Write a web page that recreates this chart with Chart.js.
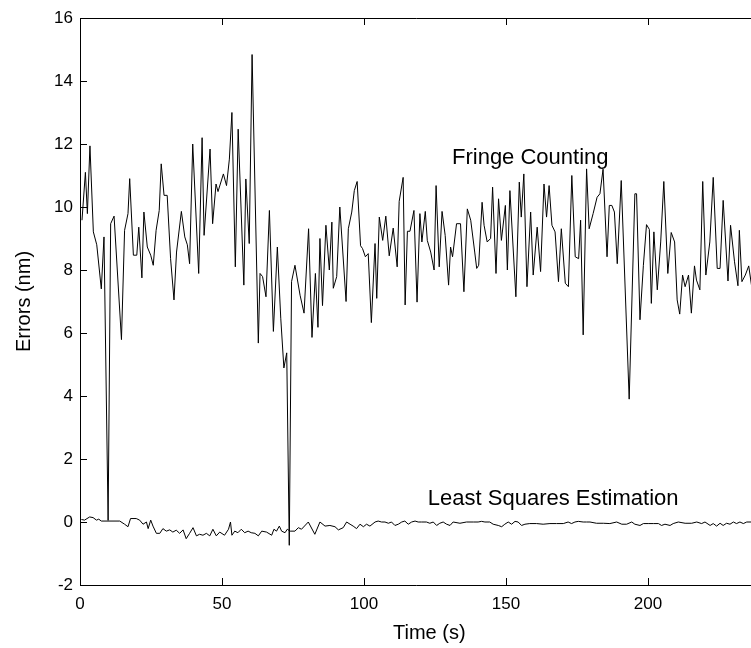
<!DOCTYPE html>
<html lang="en">
<head>
  <meta charset="UTF-8">
  <title>Errors vs Time</title>
  <script src="https://cdn.jsdelivr.net/npm/chart.js"></script>
  <style>
    body { margin: 0; background: #fff; }
    .wrap { width: 751px; height: 648px; }
  </style>
</head>
<body>
  <div class="wrap"><canvas id="errChart"></canvas></div>
  <script>
    // values (time in s, error in nm)
    const fringeTime = [0.7, 1.9, 2.6, 3.5, 4.7, 5.9, 7.5, 8.45, 9.9, 10.8, 12.0, 14.6, 15.7, 16.9, 17.5, 18.8, 20.0, 20.7, 21.8, 22.5,
      23.7, 24.9, 25.8, 26.8, 27.9, 28.6, 29.6, 30.7, 31.9, 33.1, 34.0, 35.7, 36.9, 37.8, 38.6, 39.7, 41.8, 43.0, 43.7, 45.8,
      46.7, 47.9, 48.6, 50.5, 51.6, 52.6, 53.5, 54.7, 55.7, 57.7, 58.4, 59.6, 60.6, 62.8, 63.4, 64.3, 65.5, 66.7, 68.1, 69.5,
      70.7, 71.8, 72.8, 73.7, 74.5, 75.7, 77.5, 78.9, 80.5, 81.7, 82.9, 83.8, 84.5, 85.4, 86.6, 87.8, 88.7, 89.2, 90.4, 91.5,
      93.7, 94.5, 95.7, 96.6, 97.6, 98.8, 99.5, 100.5, 101.5, 102.6, 103.9, 104.5, 105.4, 106.6, 107.7, 108.9, 110.3, 111.7, 112.4, 113.8,
      114.5, 115.3, 116.2, 117.6, 118.7, 119.7, 120.4, 121.6, 122.3, 123.5, 124.7, 125.4, 126.5, 127.5, 128.6, 129.8, 130.5, 131.2, 132.6, 134.0,
      135.2, 136.4, 137.6, 139.0, 139.7, 140.4, 141.6, 142.3, 143.4, 144.6, 145.3, 146.5, 147.4, 148.4, 149.8, 150.5, 151.4, 153.5, 154.7, 155.4,
      156.3, 157.4, 158.7, 159.6, 161.0, 162.2, 163.4, 164.3, 165.2, 166.2, 167.3, 168.5, 169.5, 170.9, 172.0, 173.2, 174.4, 175.6, 176.3, 177.2,
      178.4, 179.3, 180.7, 182.1, 183.1, 184.2, 185.6, 186.4, 187.3, 188.2, 189.2, 190.6, 193.4, 195.4, 196.0, 197.2, 198.4, 199.5, 200.5, 201.2,
      202.1, 203.3, 204.5, 205.6, 207.0, 208.2, 209.4, 210.3, 211.2, 212.2, 213.1, 214.3, 215.3, 216.4, 217.1, 218.3, 219.3, 220.4, 221.8, 223.0,
      224.4, 225.4, 226.5, 228.2, 229.1, 230.5, 231.7, 232.2, 233.1, 234.3, 235.5, 236.5];
    const fringeErr = [9.58, 11.1, 9.79, 11.94, 9.21, 8.8, 7.4, 9.05, 0.05, 9.47, 9.71, 5.79, 9.26, 9.79, 10.9, 8.47, 8.47, 9.36, 7.75, 9.84,
      8.73, 8.47, 8.15, 9.26, 9.89, 11.37, 10.37, 10.37, 8.36, 7.05, 8.57, 9.86, 9.05, 8.8, 8.2, 12.0, 7.89, 12.2, 9.1, 11.84,
      9.47, 10.73, 10.49, 11.05, 10.68, 11.52, 13.0, 8.1, 12.47, 7.52, 10.89, 8.84, 14.84, 5.68, 7.89, 7.79, 7.15, 9.89, 6.05, 8.73,
      6.47, 4.89, 5.37, -0.74, 7.63, 8.15, 7.2, 6.63, 9.31, 5.86, 7.89, 6.18, 9.0, 6.87, 9.42, 8.0, 9.52, 7.42, 7.79, 10.0,
      7.0, 9.31, 9.84, 10.52, 10.81, 8.77, 8.68, 8.42, 8.52, 6.33, 8.84, 7.1, 9.68, 8.94, 9.71, 8.45, 9.33, 8.1, 10.18, 10.94,
      6.89, 9.23, 9.23, 9.89, 6.98, 9.79, 8.89, 9.86, 8.94, 8.57, 8.0, 10.68, 8.1, 9.86, 9.1, 7.52, 8.73, 8.42, 9.47, 9.47,
      7.31, 9.94, 9.58, 8.57, 8.05, 8.15, 10.15, 9.42, 8.89, 9.0, 10.63, 7.89, 10.26, 8.94, 10.05, 8.0, 10.52, 7.15, 10.79, 9.68,
      11.05, 7.47, 9.84, 7.84, 9.36, 7.95, 10.73, 9.68, 10.68, 9.42, 9.21, 7.63, 9.31, 7.58, 7.47, 11.0, 8.42, 8.36, 9.58, 5.94,
      11.21, 9.31, 9.79, 10.31, 10.42, 11.2, 8.42, 10.05, 10.05, 9.84, 8.2, 10.84, 3.9, 10.42, 10.42, 6.42, 8.15, 9.44, 9.29, 6.94,
      9.21, 7.37, 8.89, 10.81, 7.89, 9.19, 8.89, 7.05, 6.6, 7.84, 7.47, 7.84, 6.63, 8.13, 7.68, 7.37, 10.81, 7.84, 8.89, 10.94,
      8.05, 8.05, 10.21, 7.65, 9.42, 8.26, 7.5, 9.26, 7.63, 7.84, 8.13, 7.5];

    const lseTime = [0.5, 1.6, 3.4, 4.6, 5.8, 6.6, 7.5, 14.0, 15.7, 16.9, 17.8, 19.8, 21.0, 22.2, 23.4, 24.0, 24.9, 25.7, 26.9, 28.1,
      29.2, 30.4, 31.6, 32.7, 33.9, 35.1, 36.3, 37.4, 38.6, 39.8, 41.0, 42.1, 43.3, 44.5, 45.7, 46.8, 48.0, 49.2, 50.9, 52.3,
      53.0, 53.5, 54.5, 55.6, 56.8, 58.0, 59.2, 60.3, 61.6, 62.8, 64.0, 65.7, 67.5, 68.3, 69.2, 70.2, 71.0, 72.2, 73.0, 74.0,
      75.7, 76.9, 78.0, 80.4, 82.7, 84.5, 86.3, 88.0, 89.8, 91.0, 92.7, 93.9, 95.1, 96.2, 97.4, 98.6, 99.8, 100.9, 102.1, 103.9,
      105.0, 106.2, 107.4, 108.6, 109.7, 110.9, 112.1, 113.3, 114.4, 115.6, 116.8, 118.0, 119.1, 120.3, 122.0, 123.2, 124.4, 125.6, 126.7, 127.9,
      129.1, 130.3, 131.4, 133.8, 136.1, 138.5, 140.2, 141.4, 142.6, 144.3, 145.5, 147.3, 148.5, 149.6, 150.8, 152.0, 153.2, 154.3, 155.5, 156.7,
      158.4, 160.8, 163.1, 165.5, 167.8, 170.2, 171.9, 173.1, 174.3, 175.5, 177.2, 178.4, 179.6, 181.9, 184.3, 186.6, 189.0, 190.8, 192.5, 194.3,
      195.4, 197.2, 198.4, 200.1, 201.9, 203.7, 204.8, 206.0, 207.8, 208.9, 210.7, 213.1, 215.4, 217.2, 218.9, 220.1, 221.9, 223.0, 224.2, 225.4,
      226.5, 227.7, 228.9, 230.1, 231.2, 232.4, 233.6, 234.8, 236.5];
    const lseErr = [0.08, 0.06, 0.16, 0.14, 0.06, 0.09, 0.03, 0.03, -0.07, -0.15, 0.11, 0.11, 0.06, -0.07, 0.0, -0.21, 0.06, -0.13, -0.36, -0.36,
      -0.21, -0.29, -0.25, -0.32, -0.26, -0.36, -0.25, -0.53, -0.36, -0.18, -0.44, -0.39, -0.42, -0.36, -0.44, -0.23, -0.44, -0.32, -0.42, -0.23,
      0.0, -0.42, -0.29, -0.34, -0.23, -0.34, -0.29, -0.34, -0.36, -0.44, -0.29, -0.32, -0.42, -0.23, -0.29, -0.13, -0.29, -0.34, -0.23, -0.29,
      -0.29, -0.18, -0.23, 0.0, -0.39, 0.0, -0.13, -0.11, -0.15, -0.25, -0.18, 0.0, -0.07, -0.13, -0.21, -0.07, -0.15, -0.07, -0.13, 0.0,
      0.03, 0.0, 0.0, -0.04, 0.0, -0.11, -0.07, 0.0, 0.03, -0.07, 0.0, 0.03, 0.0, 0.0, 0.0, -0.04, 0.0, -0.11, -0.04, 0.0,
      -0.07, -0.11, 0.0, -0.04, 0.0, 0.0, 0.0, 0.02, 0.0, 0.0, -0.07, -0.11, -0.15, -0.07, 0.0, -0.07, 0.02, 0.0, -0.11, -0.07,
      -0.05, -0.05, -0.07, -0.05, -0.05, -0.05, 0.0, -0.05, 0.0, 0.02, 0.0, 0.0, 0.0, -0.04, -0.04, -0.05, 0.0, -0.07, -0.07, 0.0,
      -0.07, -0.11, -0.05, -0.05, -0.05, -0.05, -0.11, -0.07, -0.11, -0.05, 0.0, -0.04, -0.04, 0.0, -0.05, 0.0, -0.11, -0.05, -0.13, -0.04,
      -0.11, -0.04, -0.07, 0.0, -0.05, 0.0, -0.05, 0.0, 0.0];

    const xTicks = [0, 50, 100, 150, 200];
    const yTicks = [-2, 0, 2, 4, 6, 8, 10, 12, 14, 16];
    const notes = [
      { text: 'Fringe Counting', t: 131, v: 11.56 },
      { text: 'Least Squares Estimation', t: 122.5, v: 0.72 }
    ];
    const xTitle = { text: 'Time (s)', t: 123 };

    const FONT = "'Liberation Sans', Arial, Helvetica, sans-serif";

    // matlab style box with inward ticks, plus the text labels
    const frame = {
      id: 'frame',
      afterDatasetsDraw(chart) {
        const { ctx, chartArea: a, scales: { x, y } } = chart;
        ctx.save();
        ctx.strokeStyle = '#000';
        ctx.lineWidth = 1;
        ctx.beginPath();
        ctx.moveTo(a.right + 1, a.top + 0.5);
        ctx.lineTo(a.left + 0.5, a.top + 0.5);
        ctx.lineTo(a.left + 0.5, a.bottom + 0.5);
        ctx.lineTo(a.right + 1, a.bottom + 0.5);
        xTicks.forEach(t => {
          const px = Math.round(x.getPixelForValue(t)) + 0.5;
          ctx.moveTo(px, a.top); ctx.lineTo(px, a.top + 7);
          ctx.moveTo(px, a.bottom); ctx.lineTo(px, a.bottom - 7);
        });
        yTicks.forEach(v => {
          const py = Math.round(y.getPixelForValue(v)) + 0.5;
          ctx.moveTo(a.left, py); ctx.lineTo(a.left + 7, py);
        });
        ctx.stroke();

        ctx.fillStyle = '#000';
        ctx.font = '22px ' + FONT;
        ctx.textBaseline = 'middle';
        ctx.textAlign = 'left';
        notes.forEach(n => {
          ctx.fillText(n.text, x.getPixelForValue(n.t), y.getPixelForValue(n.v));
        });

        // x label sits at the middle of the full (uncropped) axis
        ctx.font = '20px ' + FONT;
        ctx.textAlign = 'center';
        ctx.fillText(xTitle.text, x.getPixelForValue(xTitle.t), a.bottom + 48);
        ctx.restore();
      }
    };

    new Chart(document.getElementById('errChart'), {
      type: 'line',
      data: {
        datasets: [
          {
            label: 'Fringe Counting',
            data: fringeTime.map((t, i) => ({ x: t, y: fringeErr[i] })),
            borderColor: '#000',
            borderWidth: 1,
            pointRadius: 0,
            tension: 0
          },
          {
            label: 'Least Squares Estimation',
            data: lseTime.map((t, i) => ({ x: t, y: lseErr[i] })),
            borderColor: '#000',
            borderWidth: 1,
            pointRadius: 0,
            tension: 0
          }
        ]
      },
      options: {
        responsive: true,
        maintainAspectRatio: false,
        animation: false,
        layout: { padding: { top: 18, right: 0, left: 0, bottom: 0 } },
        plugins: { legend: { display: false }, tooltip: { enabled: false } },
        scales: {
          x: {
            type: 'linear',
            min: 0,
            max: 236.3,
            grid: { display: false, drawTicks: false },
            border: { display: false },
            afterBuildTicks: s => { s.ticks = xTicks.map(v => ({ value: v })); },
            afterFit: s => { s.height = 63; },
            ticks: { color: '#000', padding: 9, maxRotation: 0, font: { family: FONT, size: 17 } }
          },
          y: {
            min: -2,
            max: 16,
            grid: { display: false, drawTicks: false },
            border: { display: false },
            afterBuildTicks: s => { s.ticks = yTicks.map(v => ({ value: v })); },
            afterFit: s => { s.width = 80; },
            ticks: { color: '#000', padding: 7, font: { family: FONT, size: 17 } },
            title: {
              display: true, text: 'Errors (nm)', color: '#000',
              padding: { top: 12, bottom: 0 }, font: { family: FONT, size: 20 }
            }
          }
        }
      },
      plugins: [frame]
    });
  </script>
</body>
</html>
